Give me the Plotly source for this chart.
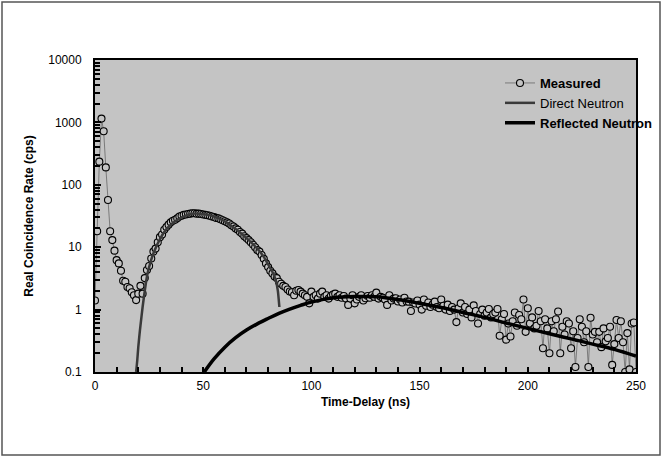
import plotly.graph_objects as go

# Measured data: time delay (ns) and rate (cps)
meas_x = list(range(0, 251))
meas_y = [
    1.4, 18, 235, 1150, 720, 190, 57, 18, 13, 8.8,
    6.2, 5.5, 4.2, 2.9, 2.8, 2.3, 2.2, 1.9, 1.7, 1.42,
    1.8, 2.4, 1.8, 3.2, 4.3, 5.0, 6.6, 8.5, 9.5, 12,
    14.5, 16, 19, 21, 23, 25, 26.5, 27.5, 29, 31,
    32, 33, 33.5, 34, 34.5, 35, 35, 34.5, 34.5, 34,
    33.5, 33, 32.5, 32, 31, 30.5, 29.5, 29, 28, 27,
    26, 25, 24, 22.5, 21.5, 20, 19, 17.5, 16.5, 15,
    14, 13, 12, 11, 10, 9, 8.5, 7.5, 6.5, 5.5,
    4.8, 4.2, 3.8, 3.4, 3.2, 2.8, 2.6, 2.4, 2.3, 2.1,
    1.95, 1.9, 1.7, 2.0, 2.06, 1.94, 1.8, 1.7, 1.6, 1.26,
    1.94, 1.6, 1.7, 1.5, 1.8, 1.94, 1.6, 1.7, 1.5, 1.65,
    1.75, 1.8, 1.6, 1.7, 1.55, 1.65, 1.5, 1.19, 1.5, 1.7,
    1.26, 1.45, 1.6, 1.7, 1.4, 1.52, 1.65, 1.55, 1.7, 1.6,
    1.87, 1.5, 1.6, 1.55, 1.45, 1.19, 1.7, 1.4, 1.5, 1.52,
    1.35, 1.45, 1.3, 1.55, 1.35, 1.34, 0.95, 1.3, 1.25, 1.4,
    1.2, 1.0, 1.45, 1.15, 1.3, 1.1, 1.2, 1.34, 1.1, 1.05,
    1.45, 1.15, 1.0, 1.2, 0.95, 1.1, 1.0, 0.63, 1.05, 1.26,
    0.9, 1.1, 0.85, 1.0, 0.75, 1.17, 0.95, 0.6, 0.85, 1.0,
    0.8, 0.9, 1.02, 0.75, 0.85, 0.9, 1.02, 0.38, 0.7, 0.85,
    0.33, 0.6, 0.37, 0.65, 0.9, 0.55, 0.82, 0.7, 1.45, 0.44,
    1.05, 0.6, 0.75, 0.5, 0.55, 0.95, 0.65, 0.24, 0.7, 0.5,
    0.2, 0.65, 0.45, 0.7, 0.93, 0.2, 0.53, 0.4, 0.65, 0.6,
    0.24, 0.45, 0.12, 0.35, 0.7, 0.53, 0.3, 0.45, 0.12, 0.74,
    0.4, 0.44, 0.3, 0.44, 0.25, 0.5, 0.31, 0.35, 0.53, 0.13,
    0.28, 0.68, 0.35, 0.65, 0.3, 0.1, 0.42, 0.11, 0.6, 0.62,
    0.1,
]

# Direct neutron fit curve
direct_x = [19, 19.5, 20, 20.5, 21, 22, 23, 24, 25, 27, 30, 33, 36, 40, 45,
            50, 55, 60, 65, 70, 75, 78, 80, 82, 83.5, 84.5, 85.2]
direct_y = [0.1, 0.15, 0.25, 0.38, 0.55, 1.1, 2.0, 3.4, 4.8, 8.0, 13.5, 19.5,
            24.5, 30, 34.5, 34, 31, 26, 19.5, 14, 9.5, 7, 5.3, 4.0, 3.0, 2.0, 1.1]

# Reflected neutron fit curve
refl_x = [50.5, 55, 60, 65, 70, 75, 80, 85, 90, 95, 100, 110, 120, 130, 140,
          150, 160, 170, 180, 190, 200, 210, 220, 230, 240, 250]
refl_y = [0.1, 0.162, 0.25, 0.355, 0.47, 0.59, 0.72, 0.87, 1.02, 1.17, 1.32,
          1.55, 1.62, 1.6, 1.45, 1.26, 1.08, 0.9, 0.75, 0.61, 0.5, 0.41, 0.34,
          0.28, 0.23, 0.18]

y_tickvals = [0.1, 1, 10, 100, 1000, 10000]
y_ticktext = ["0.1", "1", "10", "100", "1000", "10000"]

BG = "#c4c4c4"
FONT = "Liberation Sans, Arial, sans-serif"

fig = go.Figure()
fig.add_trace(go.Scatter(
    x=meas_x, y=meas_y, mode="lines+markers", name="<b>Measured</b>",
    line=dict(color="#5a5a5a", width=0.7),
    marker=dict(symbol="circle", size=7, color=BG,
                line=dict(color="black", width=1.1)),
))
fig.add_trace(go.Scatter(
    x=direct_x, y=direct_y, mode="lines", name="Direct Neutron",
    line=dict(color="#3a3a3a", width=2.5, shape="spline", smoothing=0.6),
))
fig.add_trace(go.Scatter(
    x=refl_x, y=refl_y, mode="lines", name="<b>Reflected Neutron</b>",
    line=dict(color="black", width=3.5, shape="spline", smoothing=1.0),
))

minor_vals = []
for dec in [0.1, 1, 10, 100, 1000]:
    for k in range(2, 10):
        minor_vals.append(dec * k)

W, H = 663, 458
L, R, T, B = 95, 27, 60, 86
pw, ph = W - L - R, H - T - B

fig.update_layout(
    width=W, height=H,
    margin=dict(l=L, r=R, t=T, b=B, autoexpand=False),
    paper_bgcolor="white",
    plot_bgcolor=BG,
    font=dict(family=FONT, size=12, color="black"),
    showlegend=True,
    legend=dict(x=(500 - L) / pw, y=(372 - 68) / ph, xanchor="left", yanchor="top",
                bgcolor="rgba(0,0,0,0)", font=dict(size=13, family=FONT),
                tracegroupgap=3, itemwidth=30),
    xaxis=dict(
        range=[0, 250], tickmode="linear", tick0=0, dtick=50,
        ticks="inside", ticklen=5, tickwidth=1.5, tickcolor="black",
        showline=True, linecolor="black", linewidth=2, mirror=True,
        showgrid=False, zeroline=False, automargin=False,
        minor=dict(dtick=10, ticks="inside", ticklen=5, tickwidth=1.5,
                   tickcolor="black", showgrid=False),
        title=dict(text="<b>Time-Delay (ns)</b>", font=dict(size=12), standoff=5),
        tickfont=dict(size=12), ticklabelstandoff=2,
    ),
    yaxis=dict(
        type="log", range=[-1, 4],
        tickmode="array", tickvals=y_tickvals, ticktext=y_ticktext,
        ticks="inside", ticklen=6, tickwidth=1.5, tickcolor="black",
        showline=True, linecolor="black", linewidth=2, mirror=True,
        showgrid=False, zeroline=False, automargin=False,
        minor=dict(tickmode="array", tickvals=minor_vals, ticks="inside",
                   ticklen=5, tickwidth=1.5, tickcolor="black", showgrid=False),
        title=dict(text="<b>Real Coincidence Rate (cps)</b>", font=dict(size=12),
                   standoff=12),
        tickfont=dict(size=12), ticklabelstandoff=9,
    ),
)

# outer frame around the whole figure
fig.add_shape(type="rect", xref="paper", yref="paper",
              x0=(2 - L) / pw, x1=(660 - L) / pw,
              y0=(H - B - 455) / ph, y1=(H - B - 2) / ph,
              line=dict(color="#555555", width=1.5), fillcolor="rgba(0,0,0,0)",
              layer="below")

fig.write_html("out.html")
